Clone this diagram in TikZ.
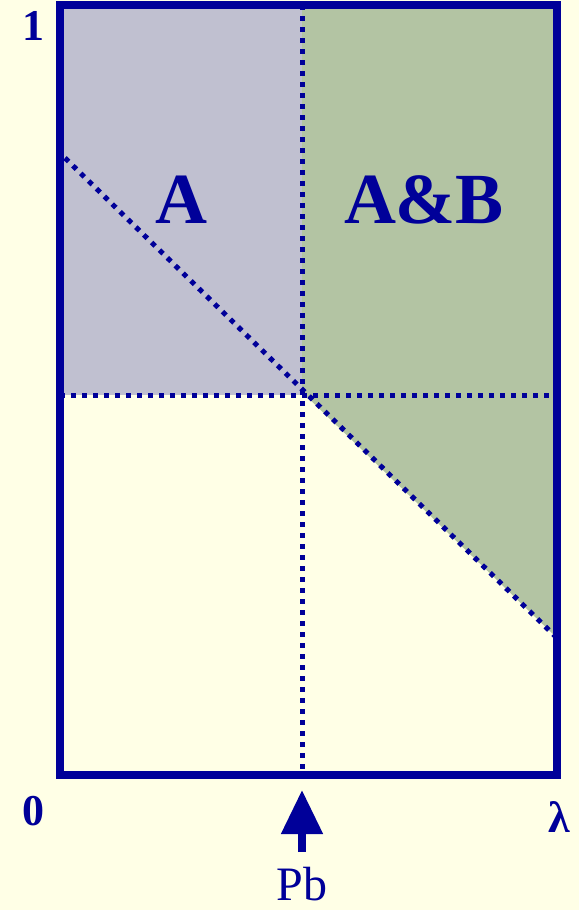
\documentclass[tikz,border=0pt]{standalone}
\usepackage{fontspec}
\setmainfont{Liberation Serif}
\usetikzlibrary{arrows.meta}
\definecolor{navy}{RGB}{0,0,153}
\definecolor{bgyel}{RGB}{255,255,230}
\definecolor{grayfill}{RGB}{192,192,208}
\definecolor{greenfill}{RGB}{179,196,163}
\tikzset{
  dotline/.style={navy, line width=5pt, dash pattern=on 5pt off 6pt},
  frame/.style={navy, line width=7.5pt, line join=miter},
  biglabel/.style={text=navy, font=\fontsize{72}{72}\selectfont\bfseries, inner sep=0pt, anchor=base},
  axlabel/.style={text=navy, font=\fontsize{44}{44}\selectfont\bfseries, inner sep=0pt, anchor=base},
}
\begin{document}
\begin{tikzpicture}[x=1pt,y=-1pt]
\fill[bgyel] (0,0) rectangle (579,910);
\useasboundingbox (0,0) rectangle (579,910);
% regions
\fill[grayfill] (60,5) rectangle (302,395);
\fill[greenfill] (302,5) -- (557,5) -- (557,638) -- (302,392) -- cycle;
% coordinates
\coordinate (d1) at (65,158);
\coordinate (d2) at (557,638);
\coordinate (h1) at (60,395);
\coordinate (h2) at (557,395);
\coordinate (v1) at (302,5);
\coordinate (v2) at (302,775);
\draw[dotline] (d1) -- (d2);
\draw[dotline] (h1) -- (h2);
\draw[dotline] (v1) -- (v2);
% frame
\draw[frame] (60,5) rectangle (557,775);
% labels
\node[axlabel] (one) at (33,40) {1};
\node[axlabel] (zero) at (33,825) {0};
\node[axlabel] (lam) at (559,832) {λ};
\node[biglabel] (A) at (181,223) {A};
\node[biglabel] (AB) at (424,223) {A\&B};
\node[text=navy, font=\fontsize{48}{48}\selectfont, inner sep=0pt, anchor=base] (pb) at (302,900) {Pb};
% arrow
\coordinate (atail) at (302,852);
\coordinate (ahead) at (302,790);
\draw[navy, line width=8pt, -{Triangle[width=40pt,length=44pt]}] (atail) -- (ahead);
\end{tikzpicture}
\end{document}
